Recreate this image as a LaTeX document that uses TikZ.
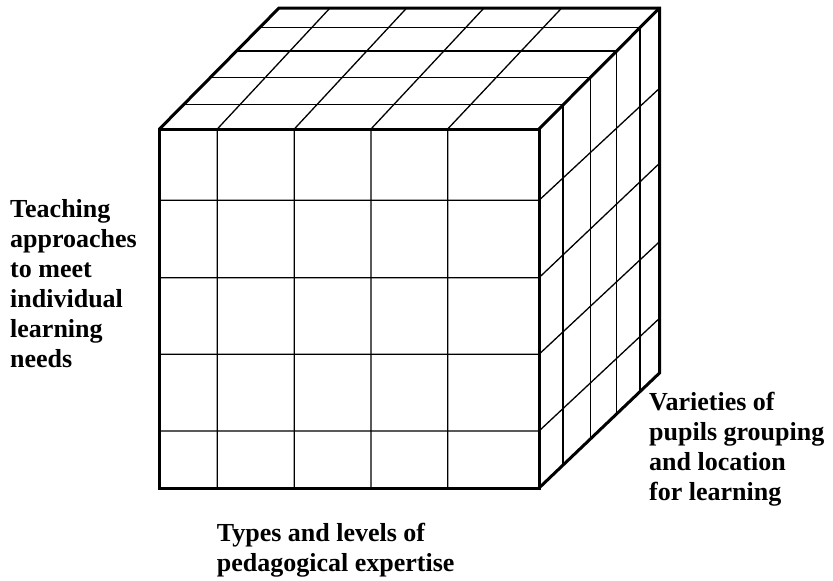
\documentclass[tikz,border=0pt]{standalone}
\usepackage{fontspec}
\setmainfont{Liberation Serif}
\usetikzlibrary{calc}

\begin{document}
\begin{tikzpicture}[x=1pt, y=-1pt,
    edge/.style={line width=3pt, line join=miter},
    grid/.style={line width=1.3pt},
    axislabel/.style={font=\fontsize{26}{30}\selectfont\bfseries, align=left,
                      anchor=base west, inner sep=0pt}
  ]
  \useasboundingbox (0,0) rectangle (833,581);

  % corners of the cube
  \coordinate (fbl) at (159.5,488);
  \coordinate (fbr) at (539,488);
  \coordinate (ftr) at (539,129);
  \coordinate (ftl) at (159.5,129);
  \coordinate (btl) at (279,8);
  \coordinate (btr) at (659.5,8);
  \coordinate (bbr) at (659.5,373);

  % cells
  \foreach \f/\b in {217.3/330, 294.3/406.7, 371/484, 447.7/561.7}
    \draw[grid] (\f,488) -- (\f,129) -- (\b,8);
  \foreach \f/\b in {200.3/88.3, 277.7/163.3, 354.3/241.7, 431/318.3}
    \draw[grid] (159.5,\f) -- (539,\f) -- (659.5,\b);
  \foreach \t in {0.2, 0.425, 0.645, 0.838}
    \draw[grid] ($(ftl)!\t!(btl)$) -- ($(ftr)!\t!(btr)$) -- ($(fbr)!\t!(bbr)$);

  % outline
  \draw[edge] (fbl) -- (fbr) -- (ftr) -- (ftl) -- cycle;
  \draw[edge] (ftl) -- (btl) -- (btr) -- (bbr) -- (fbr);
  \draw[edge] (ftr) -- (btr);

  % labels, placed by the baseline of their last line
  \node[axislabel] (needs) at (10,367)
    {Teaching\\approaches\\to meet\\individual\\learning\\needs};
  \node[axislabel] (grouping) at (649,500)
    {Varieties of\\pupils grouping\\and location\\for learning};
  \node[axislabel] (expertise) at (216.7,571.5)
    {Types and levels of\\pedagogical expertise};
\end{tikzpicture}
\end{document}
